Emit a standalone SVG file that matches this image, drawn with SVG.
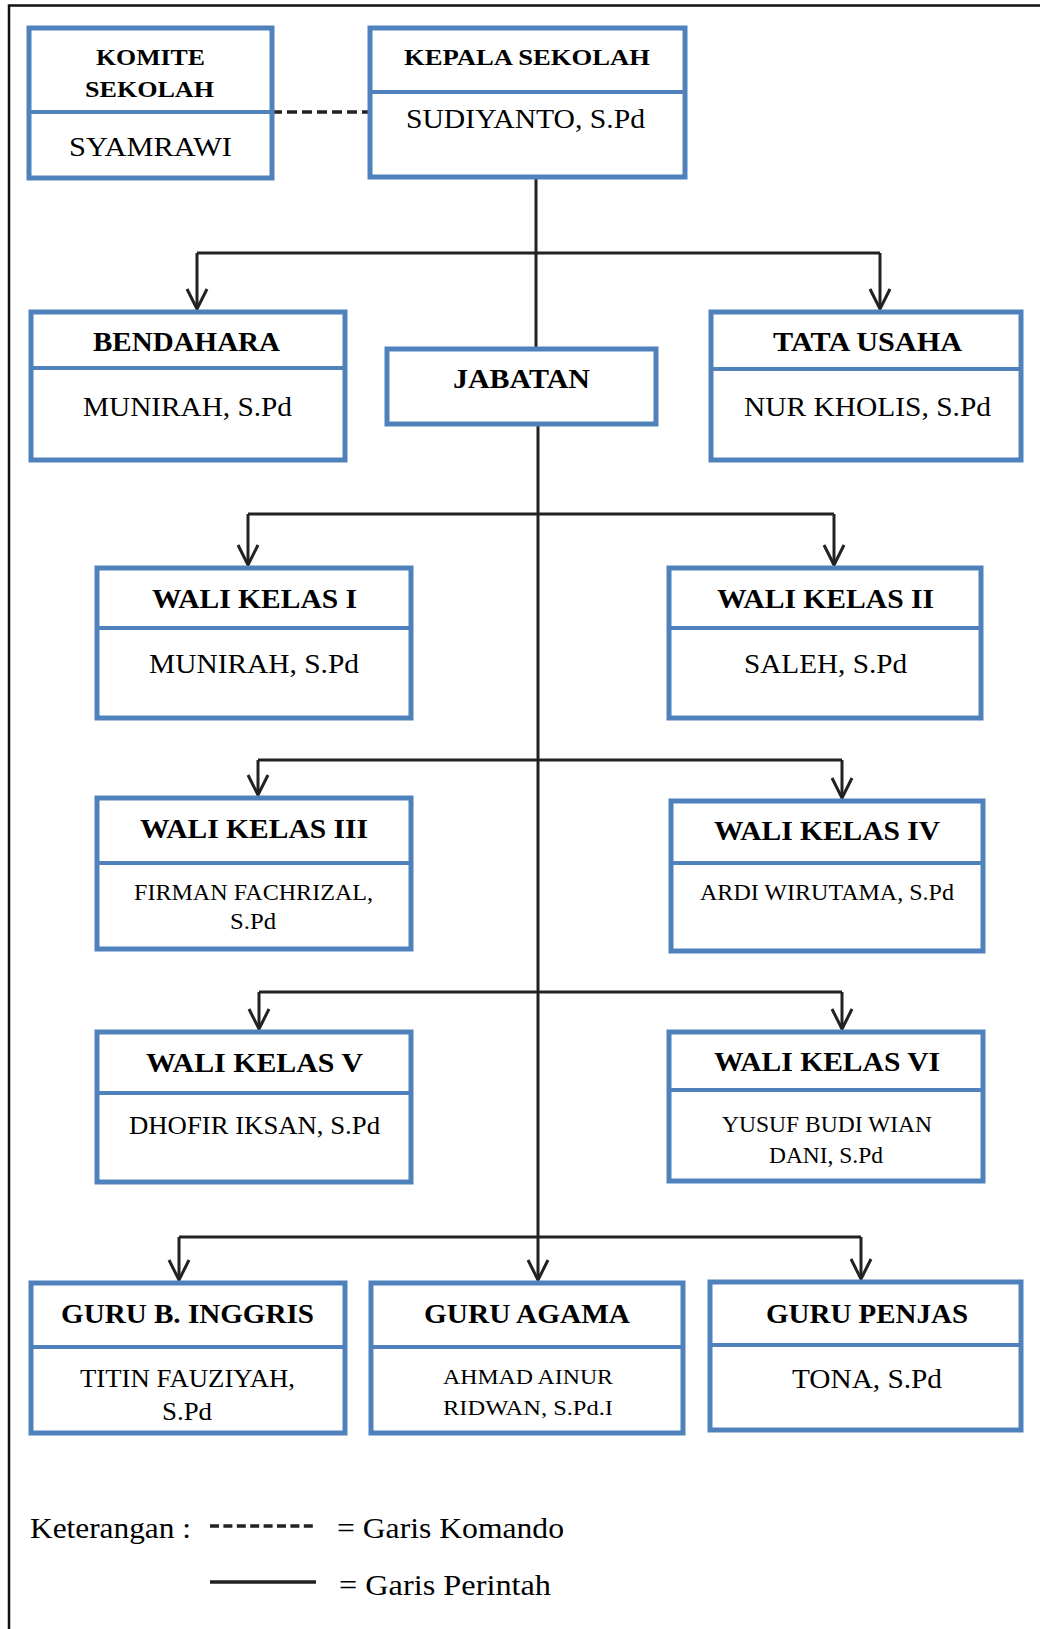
<svg xmlns="http://www.w3.org/2000/svg" width="1040" height="1629" viewBox="0 0 1040 1629">
<defs>
<style>
.box{fill:#fff;stroke:#4F81BD;stroke-width:5}
.div{stroke:#4F81BD;stroke-width:4}
.t{font-family:"Liberation Serif","Times New Roman",serif;fill:#000;text-anchor:middle}
.b{font-weight:bold;font-size:28px}
.b2{font-weight:bold;font-size:24px}
.n{font-size:27px}
.s{font-size:23px}
.lg{font-size:30px;text-anchor:start}
.ln{fill:none;stroke:#222;stroke-width:3}
.arr{fill:none;stroke:#222;stroke-width:3;marker-end:url(#ah)}
.dash{fill:none;stroke:#222;stroke-width:3.5;stroke-dasharray:10 5}
</style>
<marker id="ah" viewBox="-22 -12 24 24" markerWidth="24" markerHeight="24" refX="0" refY="0" markerUnits="userSpaceOnUse" orient="auto">
<path d="M -20 -10 L 0 0 L -20 10" fill="none" stroke="#222" stroke-width="3"/>
</marker>
</defs>
<rect width="1040" height="1629" fill="#fff"/>
<path d="M 9 1629 V 5.5 H 1040" fill="none" stroke="#111" stroke-width="2.5"/>

<g id="connectors">
<line class="dash" x1="272" y1="112" x2="370" y2="112"/>
<line class="ln" x1="536" y1="177" x2="536" y2="349"/>
<path class="ln" d="M 197 253 H 880"/>
<line class="arr" x1="197" y1="253" x2="197" y2="309"/>
<line class="arr" x1="880" y1="253" x2="880" y2="309"/>
<line class="arr" x1="538" y1="424" x2="538" y2="1280"/>
<path class="ln" d="M 248 514 H 834"/>
<line class="arr" x1="248" y1="514" x2="248" y2="565"/>
<line class="arr" x1="834" y1="514" x2="834" y2="565"/>
<path class="ln" d="M 258 760 H 842"/>
<line class="arr" x1="258" y1="760" x2="258" y2="795"/>
<line class="arr" x1="842" y1="760" x2="842" y2="798"/>
<path class="ln" d="M 259 992 H 842"/>
<line class="arr" x1="259" y1="992" x2="259" y2="1029"/>
<line class="arr" x1="842" y1="992" x2="842" y2="1029"/>
<path class="ln" d="M 179 1237 H 861"/>
<line class="arr" x1="179" y1="1237" x2="179" y2="1280"/>
<line class="arr" x1="861" y1="1237" x2="861" y2="1279"/>
</g>

<g id="komite">
<rect class="box" x="29" y="28" width="243" height="150"/>
<line class="div" x1="29" y1="112" x2="272" y2="112"/>
<text class="t b2" x="150.5" y="65" textLength="109" lengthAdjust="spacingAndGlyphs">KOMITE</text>
<text class="t b2" x="149.5" y="97" textLength="129" lengthAdjust="spacingAndGlyphs">SEKOLAH</text>
<text class="t n" x="150.5" y="156" textLength="163" lengthAdjust="spacingAndGlyphs">SYAMRAWI</text>
</g>
<g id="kepala">
<rect class="box" x="370" y="28" width="315" height="149"/>
<line class="div" x1="370" y1="92" x2="685" y2="92"/>
<text class="t b2" x="527" y="65" textLength="246" lengthAdjust="spacingAndGlyphs">KEPALA SEKOLAH</text>
<text class="t n" x="525.5" y="128" textLength="239" lengthAdjust="spacingAndGlyphs">SUDIYANTO, S.Pd</text>
</g>
<g id="bendahara">
<rect class="box" x="31" y="312" width="314" height="148"/>
<line class="div" x1="31" y1="368" x2="345" y2="368"/>
<text class="t b" x="186.5" y="351" textLength="187" lengthAdjust="spacingAndGlyphs">BENDAHARA</text>
<text class="t n" x="187.5" y="416" textLength="209" lengthAdjust="spacingAndGlyphs">MUNIRAH, S.Pd</text>
</g>
<g id="jabatan">
<rect class="box" x="387" y="349" width="269" height="75"/>
<text class="t b" x="521.5" y="388" textLength="137" lengthAdjust="spacingAndGlyphs">JABATAN</text>
</g>
<g id="tata-usaha">
<rect class="box" x="711" y="312" width="310" height="148"/>
<line class="div" x1="711" y1="369" x2="1021" y2="369"/>
<text class="t b" x="867.5" y="351" textLength="189" lengthAdjust="spacingAndGlyphs">TATA USAHA</text>
<text class="t n" x="867.5" y="416" textLength="247" lengthAdjust="spacingAndGlyphs">NUR KHOLIS, S.Pd</text>
</g>
<g id="wali-1">
<rect class="box" x="97" y="568" width="314" height="150"/>
<line class="div" x1="97" y1="628" x2="411" y2="628"/>
<text class="t b" x="254.5" y="608" textLength="205" lengthAdjust="spacingAndGlyphs">WALI KELAS I</text>
<text class="t n" x="254" y="673" textLength="210" lengthAdjust="spacingAndGlyphs">MUNIRAH, S.Pd</text>
</g>
<g id="wali-2">
<rect class="box" x="669" y="568" width="312" height="150"/>
<line class="div" x1="669" y1="628" x2="981" y2="628"/>
<text class="t b" x="825.5" y="608" textLength="217" lengthAdjust="spacingAndGlyphs">WALI KELAS II</text>
<text class="t n" x="825.5" y="673" textLength="163" lengthAdjust="spacingAndGlyphs">SALEH, S.Pd</text>
</g>
<g id="wali-3">
<rect class="box" x="97" y="798" width="314" height="151"/>
<line class="div" x1="97" y1="863" x2="411" y2="863"/>
<text class="t b" x="254" y="838" textLength="228" lengthAdjust="spacingAndGlyphs">WALI KELAS III</text>
<text class="t s" x="253.5" y="900" textLength="239" lengthAdjust="spacingAndGlyphs">FIRMAN FACHRIZAL,</text>
<text class="t s" x="253" y="929" textLength="46" lengthAdjust="spacingAndGlyphs">S.Pd</text>
</g>
<g id="wali-4">
<rect class="box" x="671" y="801" width="312" height="150"/>
<line class="div" x1="671" y1="863" x2="983" y2="863"/>
<text class="t b" x="827" y="840" textLength="226" lengthAdjust="spacingAndGlyphs">WALI KELAS IV</text>
<text class="t s" x="827" y="900" textLength="254" lengthAdjust="spacingAndGlyphs">ARDI WIRUTAMA, S.Pd</text>
</g>
<g id="wali-5">
<rect class="box" x="97" y="1032" width="314" height="150"/>
<line class="div" x1="97" y1="1093" x2="411" y2="1093"/>
<text class="t b" x="254.5" y="1072" textLength="217" lengthAdjust="spacingAndGlyphs">WALI KELAS V</text>
<text class="t n" x="254.5" y="1134" textLength="251" lengthAdjust="spacingAndGlyphs" style="font-size:25px">DHOFIR IKSAN, S.Pd</text>
</g>
<g id="wali-6">
<rect class="box" x="669" y="1032" width="314" height="149"/>
<line class="div" x1="669" y1="1090" x2="983" y2="1090"/>
<text class="t b" x="827" y="1071" textLength="226" lengthAdjust="spacingAndGlyphs">WALI KELAS VI</text>
<text class="t s" x="827" y="1132" textLength="210" lengthAdjust="spacingAndGlyphs">YUSUF BUDI WIAN</text>
<text class="t s" x="826" y="1163" textLength="114" lengthAdjust="spacingAndGlyphs">DANI, S.Pd</text>
</g>
<g id="guru-inggris">
<rect class="box" x="31" y="1283" width="314" height="150"/>
<line class="div" x1="31" y1="1347" x2="345" y2="1347"/>
<text class="t b" x="187.5" y="1323" textLength="253" lengthAdjust="spacingAndGlyphs">GURU B. INGGRIS</text>
<text class="t n" x="187.5" y="1387" textLength="215" lengthAdjust="spacingAndGlyphs" style="font-size:25px">TITIN FAUZIYAH,</text>
<text class="t n" x="187" y="1420" textLength="50" lengthAdjust="spacingAndGlyphs" style="font-size:25px">S.Pd</text>
</g>
<g id="guru-agama">
<rect class="box" x="371" y="1283" width="312" height="150"/>
<line class="div" x1="371" y1="1347" x2="683" y2="1347"/>
<text class="t b" x="527" y="1323" textLength="206" lengthAdjust="spacingAndGlyphs">GURU AGAMA</text>
<text class="t s" x="528" y="1384" textLength="170" lengthAdjust="spacingAndGlyphs" style="font-size:22px">AHMAD AINUR</text>
<text class="t s" x="528" y="1415" textLength="170" lengthAdjust="spacingAndGlyphs" style="font-size:22px">RIDWAN, S.Pd.I</text>
</g>
<g id="guru-penjas">
<rect class="box" x="710" y="1282" width="311" height="148"/>
<line class="div" x1="710" y1="1345" x2="1021" y2="1345"/>
<text class="t b" x="867" y="1323" textLength="202" lengthAdjust="spacingAndGlyphs">GURU PENJAS</text>
<text class="t n" x="867" y="1388" textLength="150" lengthAdjust="spacingAndGlyphs">TONA, S.Pd</text>
</g>

<g id="legend">
<text class="t lg" x="30" y="1538" textLength="161" lengthAdjust="spacingAndGlyphs">Keterangan :</text>
<line x1="210" y1="1526" x2="316" y2="1526" stroke="#222" stroke-width="3.5" stroke-dasharray="9 4.4"/>
<text class="t lg" x="337" y="1538" textLength="227" lengthAdjust="spacingAndGlyphs">= Garis Komando</text>
<line x1="210" y1="1582" x2="316" y2="1582" stroke="#222" stroke-width="3.5"/>
<text class="t lg" x="339" y="1595" textLength="212" lengthAdjust="spacingAndGlyphs">= Garis Perintah</text>
</g>
</svg>
